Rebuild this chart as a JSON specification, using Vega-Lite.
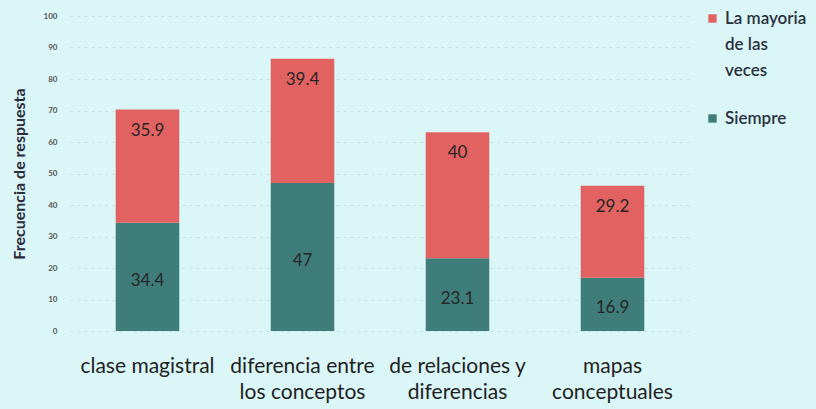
{
  "$schema": "https://vega.github.io/schema/vega-lite/v6.json",
  "width": 620,
  "height": 315,
  "autosize": {"type": "none"},
  "padding": {"left": 70, "top": 16, "right": 126, "bottom": 78},
  "background": "#daf6f7",
  "config": {
    "view": {"stroke": null},
    "font": "Lato",
    "style": {"guide-label": {"lineHeight": 26}}
  },
  "data": {
    "values": [
      {"categoria": "clase magistral", "serie": "Siempre", "orden": 1, "valor": 34.4},
      {"categoria": "clase magistral", "serie": "La mayoria de las veces", "orden": 2, "valor": 35.9},
      {"categoria": "diferencia  entre\nlos conceptos", "serie": "Siempre", "orden": 1, "valor": 47},
      {"categoria": "diferencia  entre\nlos conceptos", "serie": "La mayoria de las veces", "orden": 2, "valor": 39.4},
      {"categoria": "de relaciones y\ndiferencias", "serie": "Siempre", "orden": 1, "valor": 23.1},
      {"categoria": "de relaciones y\ndiferencias", "serie": "La mayoria de las veces", "orden": 2, "valor": 40},
      {"categoria": "mapas\nconceptuales", "serie": "Siempre", "orden": 1, "valor": 16.9},
      {"categoria": "mapas\nconceptuales", "serie": "La mayoria de las veces", "orden": 2, "valor": 29.2}
    ]
  },
  "transform": [
    {"stack": "valor", "groupby": ["categoria"], "sort": [{"field": "orden"}], "as": ["v0", "v1"]}
  ],
  "encoding": {
    "x": {
      "field": "categoria",
      "type": "nominal",
      "sort": null,
      "scale": {"paddingInner": 0.59, "paddingOuter": 0.295},
      "axis": {
        "title": null,
        "labelAngle": 0,
        "domain": false,
        "ticks": false,
        "labelPadding": 24,
        "labelFontSize": 21,
        "labelColor": "#1f1f1f",
        "labelFont": "Lato",
        "labelLineHeight": 26,
        "labelExpr": "split(datum.label, '\\n')"
      }
    }
  },
  "layer": [
    {
      "mark": {"type": "bar"},
      "encoding": {
        "y": {
          "field": "v1",
          "type": "quantitative",
          "scale": {"domain": [0, 100]},
          "axis": {
            "title": "Frecuencia de respuesta",
            "titleFontSize": 16,
            "titleFontWeight": "bold",
            "titleColor": "#2a2a3a",
            "titlePadding": 16,
            "values": [0, 10, 20, 30, 40, 50, 60, 70, 80, 90, 100],
            "labelFontSize": 8,
            "labelFontWeight": "bold",
            "labelColor": "#555555",
            "labelPadding": 13,
            "ticks": false,
            "domain": false,
            "grid": true,
            "gridColor": "#b8d4d6",
            "gridDash": [3, 4],
            "gridOpacity": 0.6
          }
        },
        "y2": {"field": "v0"},
        "color": {
          "field": "serie",
          "type": "nominal",
          "scale": {"domain": ["La mayoria de las veces", "Siempre"], "range": ["#e26262", "#3e7d7a"]},
          "legend": {
            "title": null,
            "orient": "none",
            "legendX": 634,
            "legendY": -6,
            "symbolType": "square",
            "symbolSize": 70,
            "symbolStrokeWidth": 0,
            "labelFontSize": 17,
            "labelFontWeight": 600,
            "labelColor": "#2a3040",
            "labelFont": "Lato",
            "labelLimit": 200,
            "rowPadding": 30,
            "labelExpr": "datum.label == 'La mayoria de las veces' ? ['La mayoria', 'de las', 'veces'] : datum.label"
          }
        }
      }
    },
    {
      "transform": [{"filter": "datum.serie == 'La mayoria de las veces'"}],
      "mark": {"type": "text", "fontSize": 17, "color": "#262626", "baseline": "middle", "dy": 21},
      "encoding": {
        "y": {"field": "v1", "type": "quantitative", "scale": {"domain": [0, 100]}, "axis": null},
        "text": {"field": "valor", "type": "quantitative"}
      }
    },
    {
      "transform": [{"filter": "datum.serie == 'Siempre'"}],
      "mark": {"type": "text", "fontSize": 17, "color": "#262626", "baseline": "middle", "dy": 4},
      "encoding": {
        "y": {"field": "v1", "type": "quantitative", "scale": {"domain": [0, 200]}, "axis": null},
        "text": {"field": "valor", "type": "quantitative"}
      }
    }
  ],
  "resolve": {"scale": {"y": "independent"}}
}
